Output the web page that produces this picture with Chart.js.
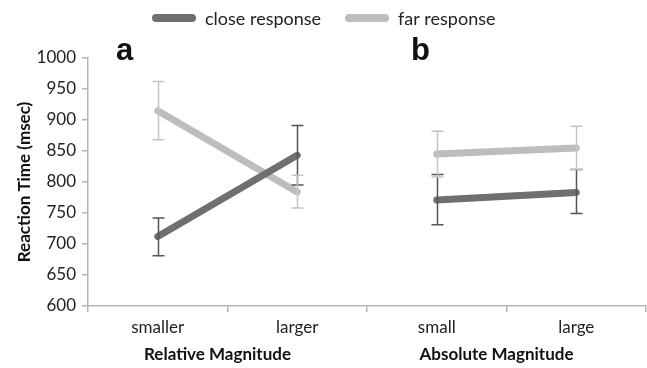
<!DOCTYPE html>
<html><head><meta charset="utf-8">
<script src="https://cdn.jsdelivr.net/npm/chart.js@4"></script>
<style>html,body{margin:0;padding:0;background:#fff;}#wrap{width:647px;height:368px;}</style>
</head><body><div id="wrap"><canvas id="c" width="647" height="368"></canvas></div>
<script>
const categories = ['smaller', 'larger', 'small', 'large'];
const panelTitles = ['Relative Magnitude', 'Absolute Magnitude'];
const panelLetters = ['a', 'b'];
const seriesNames = ['close response', 'far response'];
const closeMean = [712, 843, 771, 783];
const closeHigh = [742, 891, 812, 820];
const closeLow  = [681, 795, 731, 749];
const farMean   = [915, 784, 845, 855];
const farHigh   = [962, 811, 882, 890];
const farLow    = [868, 758, 808, 820];
const yTicks = [600, 650, 700, 750, 800, 850, 900, 950, 1000];

const DARK = '#6f6f6f', LIGHT = '#bdbdbd';
const DARK_ERR = '#555555', LIGHT_ERR = '#c4c4c4';

function part(arr, panel) { return arr.map((v, i) => (Math.floor(i / 2) === panel ? v : null)); }

const datasets = [];
[[closeMean, closeHigh, closeLow, DARK, DARK_ERR, 0], [farMean, farHigh, farLow, LIGHT, LIGHT_ERR, 1]].forEach(s => {
  for (let p = 0; p < 2; p++) {
    datasets.push({
      label: seriesNames[s[5]], data: part(s[0], p), hi: part(s[1], p), lo: part(s[2], p),
      borderColor: s[3], backgroundColor: s[3], errColor: s[4], borderWidth: 7,
      borderCapStyle: 'round', pointRadius: 0, spanGaps: false, tension: 0, series: s[5]
    });
  }
});

const errPlugin = {
  id: 'err',
  afterDatasetsDraw(chart) {
    const ctx = chart.ctx, x = chart.scales.x, y = chart.scales.y;
    ctx.save();
    chart.data.datasets.forEach(ds => {
      ctx.strokeStyle = ds.errColor; ctx.lineWidth = 1.5;
      ds.data.forEach((v, i) => {
        if (v == null) return;
        const px = Math.round(x.getPixelForValue(i)) + 0.5;
        const yh = y.getPixelForValue(ds.hi[i]), yl = y.getPixelForValue(ds.lo[i]);
        ctx.beginPath();
        ctx.moveTo(px, yh); ctx.lineTo(px, yl);
        ctx.moveTo(px - 6, yh); ctx.lineTo(px + 6, yh);
        ctx.moveTo(px - 6, yl); ctx.lineTo(px + 6, yl);
        ctx.stroke();
      });
    });
    ctx.restore();
  }
};

const decoPlugin = {
  id: 'deco',
  afterDraw(chart) {
    const ctx = chart.ctx, x = chart.scales.x;
    ctx.save();
    // legend
    const items = [[DARK, seriesNames[0], 152], [LIGHT, seriesNames[1], 345]];
    ctx.font = '18px Lato';
    ctx.textBaseline = 'middle';
    items.forEach(it => {
      ctx.strokeStyle = it[0]; ctx.lineWidth = 8; ctx.lineCap = 'round';
      ctx.beginPath(); ctx.moveTo(it[2] + 4, 18); ctx.lineTo(it[2] + 40, 18); ctx.stroke();
      ctx.fillStyle = '#222'; ctx.textAlign = 'left';
      ctx.fillText(it[1], it[2] + 53, 19);
    });
    // panel letters
    ctx.font = 'bold 31px "Liberation Sans"';
    ctx.textBaseline = 'alphabetic'; ctx.textAlign = 'left'; ctx.fillStyle = '#111';
    ctx.fillText(panelLetters[0], 116, 60);
    ctx.fillText(panelLetters[1], 411, 60);
    // panel axis titles
    ctx.font = 'bold 17px Lato'; ctx.textAlign = 'center'; ctx.textBaseline = 'middle';
    const c0 = (x.getPixelForValue(0) + x.getPixelForValue(1)) / 2 - 10;
    const c1 = (x.getPixelForValue(2) + x.getPixelForValue(3)) / 2 - 10;
    ctx.fillText(panelTitles[0], c0, 355);
    ctx.fillText(panelTitles[1], c1, 355);
    ctx.restore();
  }
};

new Chart(document.getElementById('c'), {
  type: 'line',
  data: { labels: categories, datasets },
  options: {
    responsive: false, animation: false,
    layout: { padding: { top: 58, right: 1, bottom: 0, left: 0 } },
    plugins: { legend: { display: false }, tooltip: { enabled: false } },
    scales: {
      x: {
        type: 'category', offset: true,
        grid: { offset: true, drawOnChartArea: false, drawTicks: true, tickLength: 6, color: '#b5b5b5', lineWidth: 1.5 },
        border: { color: '#b5b5b5', width: 1.5 },
        ticks: { color: '#222', font: { family: 'Lato', size: 17 }, padding: 5 },
        afterFit(s) { s.height = 62; }
      },
      y: {
        min: 600, max: 1000,
        afterBuildTicks(s) { s.ticks = yTicks.map(v => ({ value: v })); },
        grid: { drawOnChartArea: false, drawTicks: true, tickLength: 6, color: '#b5b5b5', lineWidth: 1.5 },
        border: { color: '#b5b5b5', width: 1.5 },
        ticks: { color: '#222', font: { family: 'Lato', size: 17 }, padding: 6, callback: v => String(v) },
        title: { display: true, text: 'Reaction Time (msec)', color: '#111', font: { family: 'Lato', size: 17, weight: 'bold' }, padding: { top: 14, bottom: 0 } },
        afterFit(s) { s.width = 88; }
      }
    }
  },
  plugins: [errPlugin, decoPlugin]
});
</script></body></html>
